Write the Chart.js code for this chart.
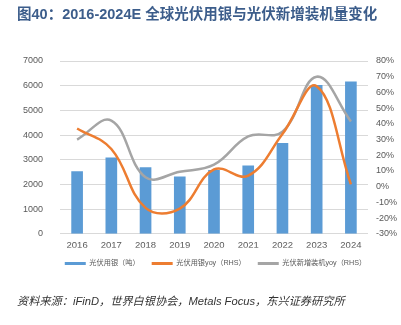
<!DOCTYPE html>
<html>
<head>
<meta charset="utf-8">
<script src="https://cdn.jsdelivr.net/npm/chart.js@4.4.1/dist/chart.umd.min.js"></script>
<style>
  html, body { margin: 0; padding: 0; background: #fff; }
  body { width: 401px; height: 325px; position: relative; overflow: hidden; }
  #title {
    position: absolute; left: 17px; top: 2px;
    font: bold 14.5px "Liberation Sans", "Noto Sans CJK SC", sans-serif;
    color: #3c5d8b; white-space: nowrap;
  }
  #source {
    position: absolute; left: 17px; top: 292px;
    font: italic 11.2px "Liberation Sans", "Noto Sans CJK SC", sans-serif;
    color: #333; white-space: nowrap;
  }
  #wrap { position: absolute; left: 0; top: 0; width: 401px; height: 325px; }
</style>
</head>
<body>
<div id="wrap"><canvas id="chart" width="401" height="325"></canvas></div>
<div id="title">图40：2016-2024E 全球光伏用银与光伏新增装机量变化</div>
<div id="source">资料来源：iFinD，世界白银协会，Metals Focus，东兴证券研究所</div>
<script>
const years = ['2016', '2017', '2018', '2019', '2020', '2021', '2022', '2023', '2024'];
const silverUse = [2520, 3080, 2680, 2310, 2570, 2750, 3660, 6010, 6160];
const silverYoy = [37, 24, -13.5, -14, 11, 7, 33.5, 64, 1.5];
const installYoy = [30, 42, 6, 9.5, 14, 32, 35, 70, 41.5];

const fontFamily = '"Liberation Sans", "Noto Sans CJK SC", sans-serif';
const tickFont = { family: fontFamily, size: 9 };
const gridColor = '#d9d9d9';

// legend sits a little right of centre in the original
const shiftLegend = {
  id: 'shiftLegend',
  afterLayout(chart) {
    chart.legend.left += 15;
    chart.legend.right += 15;
  },
};

new Chart(document.getElementById('chart'), {
  plugins: [shiftLegend],
  data: {
    labels: years,
    datasets: [
      {
        type: 'bar',
        label: '光伏用银（吨）',
        data: silverUse,
        backgroundColor: '#5b9bd5',
        barThickness: 11,
        yAxisID: 'y',
        order: 2,
      },
      {
        type: 'line',
        label: '光伏用银yoy（RHS）',
        data: silverYoy,
        borderColor: '#ed7d31',
        backgroundColor: '#ed7d31',
        borderWidth: 2.5,
        pointRadius: 0,
        tension: 0.4,
        yAxisID: 'y1',
        order: 1,
      },
      {
        type: 'line',
        label: '光伏新增装机yoy（RHS）',
        data: installYoy,
        borderColor: '#a5a5a5',
        backgroundColor: '#a5a5a5',
        borderWidth: 2.5,
        pointRadius: 0,
        tension: 0.4,
        yAxisID: 'y1',
        order: 1,
      },
    ],
  },
  options: {
    responsive: false,
    animation: false,
    layout: { padding: { top: 61, bottom: 48, left: 0, right: 0 } },
    plugins: {
      tooltip: { enabled: false },
      legend: {
        position: 'bottom',
        labels: {
          boxWidth: 21,
          boxHeight: 3,
          padding: 12,
          color: '#595959',
          font: { family: fontFamily, size: 7.2, lineHeight: 1 },
          generateLabels(chart) {
            return chart.data.datasets.map((ds, i) => ({
              text: ds.label,
              fillStyle: ds.type === 'bar' ? ds.backgroundColor : ds.borderColor,
              strokeStyle: 'transparent',
              lineWidth: 0,
              datasetIndex: i,
              fontColor: '#595959',
            }));
          },
        },
      },
    },
    scales: {
      x: {
        grid: { display: false, drawTicks: false },
        border: { display: false },
        ticks: { color: '#595959', font: { family: fontFamily, size: 9.5, lineHeight: 1 }, padding: 7 },
        afterFit(scale) { scale.height = 14; },
      },
      y: {
        position: 'left',
        min: 0, max: 7000,
        ticks: { stepSize: 1000, color: '#595959', font: tickFont, padding: 17, callback: v => String(v) },
        grid: { color: gridColor, drawTicks: false },
        border: { display: false },
        afterFit(scale) { scale.width = 60; },
      },
      y1: {
        position: 'right',
        min: -30, max: 80,
        ticks: { stepSize: 10, color: '#595959', font: tickFont, padding: 8, callback: v => v + '%' },
        grid: { display: false, drawTicks: false },
        border: { display: false },
        afterFit(scale) { scale.width = 33; },
      },
    },
  },
});
</script>
</body>
</html>
